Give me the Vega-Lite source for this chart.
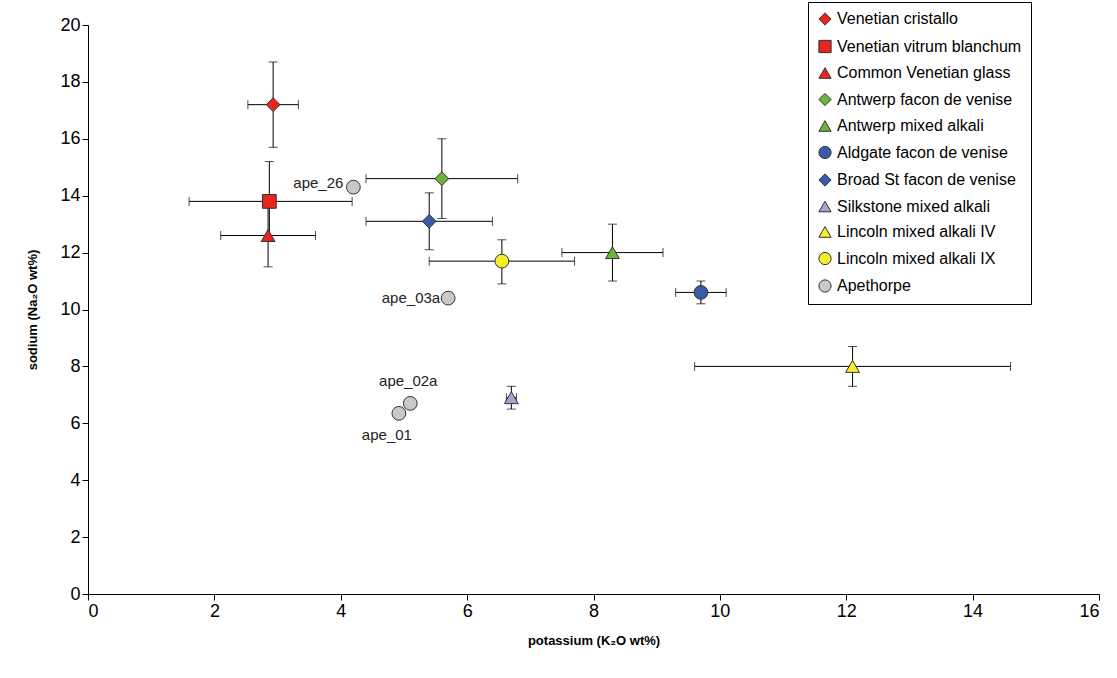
{
  "$schema": "https://vega.github.io/schema/vega-lite/v6.json",
  "width": 1011,
  "height": 569,
  "autosize": "none",
  "padding": {"left": 88, "top": 25, "right": 18, "bottom": 84},
  "background": "white",
  "config": {
    "view": {"stroke": null},
    "font": "Liberation Sans",
    "axis": {"grid": false, "domainColor": "black", "tickColor": "black", "labelColor": "black", "labelFontSize": 18, "labelFont": "Liberation Sans", "titleFont": "Liberation Sans", "titleFontSize": 13, "titleFontWeight": "bold", "titleColor": "black", "tickSize": 6}
  },
  "data": {"values": [
    {"group": "Venetian cristallo", "k": 2.93, "na": 17.2, "klo": 2.53, "khi": 3.33, "nalo": 15.7, "nahi": 18.7},
    {"group": "Venetian vitrum blanchum", "k": 2.87, "na": 13.8, "klo": 1.6, "khi": 4.18, "nalo": 12.4, "nahi": 15.2},
    {"group": "Common Venetian glass", "k": 2.85, "na": 12.6, "klo": 2.1, "khi": 3.6, "nalo": 11.5, "nahi": 13.6},
    {"group": "Antwerp facon de venise", "k": 5.6, "na": 14.6, "klo": 4.4, "khi": 6.8, "nalo": 13.2, "nahi": 16.0},
    {"group": "Antwerp mixed alkali", "k": 8.3, "na": 12.0, "klo": 7.5, "khi": 9.1, "nalo": 11.0, "nahi": 13.0},
    {"group": "Aldgate facon de venise", "k": 9.7, "na": 10.6, "klo": 9.3, "khi": 10.1, "nalo": 10.2, "nahi": 11.0},
    {"group": "Broad St facon de venise", "k": 5.4, "na": 13.1, "klo": 4.4, "khi": 6.4, "nalo": 12.1, "nahi": 14.1},
    {"group": "Silkstone mixed alkali", "k": 6.7, "na": 6.9, "klo": 6.62, "khi": 6.78, "nalo": 6.5, "nahi": 7.3},
    {"group": "Lincoln mixed alkali IV", "k": 12.1, "na": 8.0, "klo": 9.6, "khi": 14.6, "nalo": 7.3, "nahi": 8.7},
    {"group": "Lincoln mixed alkali IX", "k": 6.55, "na": 11.7, "klo": 5.4, "khi": 7.7, "nalo": 10.9, "nahi": 12.45},
    {"group": "Apethorpe", "k": 4.2, "na": 14.3, "label": "ape_26"},
    {"group": "Apethorpe", "k": 5.7, "na": 10.4, "label": "ape_03a"},
    {"group": "Apethorpe", "k": 5.1, "na": 6.7, "label": "ape_02a"},
    {"group": "Apethorpe", "k": 4.92, "na": 6.35, "label": "ape_01"}
  ]},
  "layer": [
    {
      "transform": [{"filter": "isValid(datum.klo)"}],
      "mark": {"type": "rule", "color": "black", "strokeWidth": 1},
      "encoding": {
        "x": {"field": "klo", "type": "quantitative", "scale": {"domain": [0, 16]}},
        "x2": {"field": "khi"},
        "y": {"field": "na", "type": "quantitative"}
      }
    },
    {
      "transform": [{"filter": "isValid(datum.klo)"}],
      "mark": {"type": "rule", "color": "black", "strokeWidth": 1},
      "encoding": {
        "x": {"field": "k", "type": "quantitative"},
        "y": {"field": "nalo", "type": "quantitative"},
        "y2": {"field": "nahi"}
      }
    },
    {
      "transform": [{"filter": "isValid(datum.klo)"}, {"fold": ["klo", "khi"], "as": ["end", "kv"]}],
      "mark": {"type": "tick", "orient": "vertical", "color": "black", "size": 9, "thickness": 1},
      "encoding": {
        "x": {"field": "kv", "type": "quantitative"},
        "y": {"field": "na", "type": "quantitative"}
      }
    },
    {
      "transform": [{"filter": "isValid(datum.klo)"}, {"fold": ["nalo", "nahi"], "as": ["end", "nv"]}],
      "mark": {"type": "tick", "orient": "horizontal", "color": "black", "size": 9, "thickness": 1},
      "encoding": {
        "x": {"field": "k", "type": "quantitative"},
        "y": {"field": "nv", "type": "quantitative"}
      }
    },
    {
      "mark": {"type": "point", "filled": true, "stroke": "#333333", "strokeWidth": 1, "opacity": 1, "size": 190},
      "encoding": {
        "x": {"field": "k", "type": "quantitative", "scale": {"domain": [0, 16]}, "axis": {"values": [0, 2, 4, 6, 8, 10, 12, 14, 16], "format": "d", "title": "potassium (K₂O wt%)", "titlePadding": 14}},
        "y": {"field": "na", "type": "quantitative", "scale": {"domain": [0, 20]}, "axis": {"values": [0, 2, 4, 6, 8, 10, 12, 14, 16, 18, 20], "format": "d", "title": "sodium (Na₂O wt%)", "titlePadding": 20}},
        "color": {"field": "group", "type": "nominal", "scale": {
          "domain": ["Venetian cristallo", "Venetian vitrum blanchum", "Common Venetian glass", "Antwerp facon de venise", "Antwerp mixed alkali", "Aldgate facon de venise", "Broad St facon de venise", "Silkstone mixed alkali", "Lincoln mixed alkali IV", "Lincoln mixed alkali IX", "Apethorpe"],
          "range": ["#e8251f", "#e8251f", "#e8251f", "#6ab43e", "#6ab43e", "#3a5ca8", "#3a5ca8", "#b09fcc", "#f5ef2b", "#f5ef2b", "#c8c8c8"]},
          "legend": {"title": null, "orient": "none", "legendX": 720, "legendY": -23, "labelFontSize": 16, "labelFont": "Liberation Sans", "labelColor": "black", "symbolSize": 150, "symbolStrokeColor": "#333333", "symbolStrokeWidth": 1, "rowPadding": 9.5, "strokeColor": "black", "fillColor": "white", "padding": 9, "labelLimit": 300}},
        "shape": {"field": "group", "type": "nominal", "scale": {
          "domain": ["Venetian cristallo", "Venetian vitrum blanchum", "Common Venetian glass", "Antwerp facon de venise", "Antwerp mixed alkali", "Aldgate facon de venise", "Broad St facon de venise", "Silkstone mixed alkali", "Lincoln mixed alkali IV", "Lincoln mixed alkali IX", "Apethorpe"],
          "range": ["diamond", "square", "triangle-up", "diamond", "triangle-up", "circle", "diamond", "triangle-up", "triangle-up", "circle", "circle"]}}
      }
    },
    {
      "transform": [{"filter": "datum.label == 'ape_26'"}],
      "mark": {"type": "text", "align": "right", "dx": -10, "dy": -4, "fontSize": 15, "color": "#222222"},
      "encoding": {
        "x": {"field": "k", "type": "quantitative"},
        "y": {"field": "na", "type": "quantitative"},
        "text": {"field": "label"}
      }
    },
    {
      "transform": [{"filter": "datum.label == 'ape_03a'"}],
      "mark": {"type": "text", "align": "right", "dx": -8, "dy": 0, "fontSize": 15, "color": "#222222"},
      "encoding": {
        "x": {"field": "k", "type": "quantitative"},
        "y": {"field": "na", "type": "quantitative"},
        "text": {"field": "label"}
      }
    },
    {
      "transform": [{"filter": "datum.label == 'ape_02a'"}],
      "mark": {"type": "text", "align": "center", "dx": -2, "dy": -22, "fontSize": 15, "color": "#222222"},
      "encoding": {
        "x": {"field": "k", "type": "quantitative"},
        "y": {"field": "na", "type": "quantitative"},
        "text": {"field": "label"}
      }
    },
    {
      "transform": [{"filter": "datum.label == 'ape_01'"}],
      "mark": {"type": "text", "align": "center", "dx": -12, "dy": 22, "fontSize": 15, "color": "#222222"},
      "encoding": {
        "x": {"field": "k", "type": "quantitative"},
        "y": {"field": "na", "type": "quantitative"},
        "text": {"field": "label"}
      }
    }
  ]
}
